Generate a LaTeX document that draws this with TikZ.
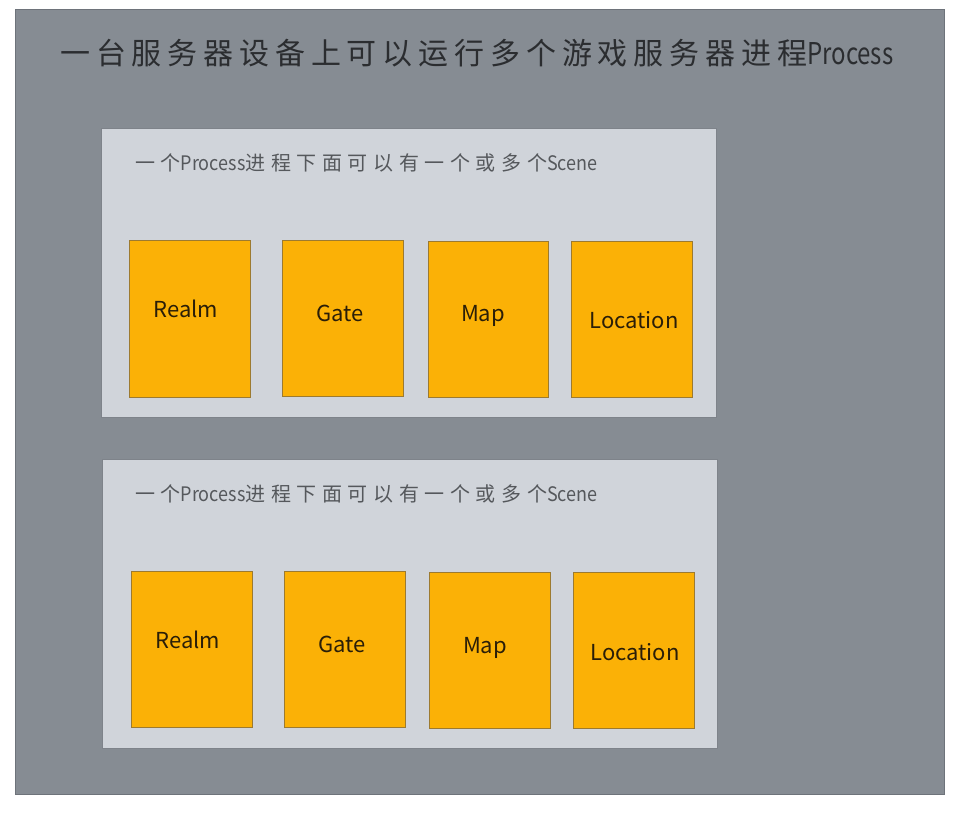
\documentclass[tikz,border=0pt]{standalone}
\usepackage{fontspec}
\setmainfont{Noto Sans CJK SC}
\newfontfamily\cjkfont{Noto Sans CJK SC}
\definecolor{outerfill}{HTML}{868C93}
\definecolor{outerline}{HTML}{6E737A}
\definecolor{innerfill}{HTML}{D0D4DA}
\definecolor{innerline}{HTML}{7E838A}
\definecolor{orangefill}{HTML}{FBB106}
\definecolor{orangeline}{HTML}{9C7A30}
\definecolor{titlecol}{HTML}{2B2D30}
\definecolor{subcol}{HTML}{55585C}
\definecolor{labelcol}{HTML}{2A1E08}
\tikzset{
  outerbox/.style={draw=outerline, fill=outerfill, line width=1pt},
  innerbox/.style={draw=innerline, fill=innerfill, line width=1pt},
  scenebox/.style={draw=orangeline, fill=orangefill, line width=0.8pt},
  titletext/.style={text=titlecol, font=\fontsize{30}{34}\selectfont, inner sep=0pt},
  subtext/.style={text=subcol, font=\fontsize{20}{24}\selectfont, inner sep=0pt, anchor=west},
  labeltext/.style={text=labelcol, font=\fontsize{22}{26}\selectfont, inner sep=0pt},
}
\newcommand{\subline}{{\addfontfeature{LetterSpace=28}一个}\scalebox{0.9}[1]{Process}{\addfontfeature{LetterSpace=28}进程下面可以有一个或多个}\scalebox{0.9}[1]{Scene}}
\begin{document}
\begin{tikzpicture}[x=1pt,y=-1pt]
\useasboundingbox (0,0) rectangle (955,812);
\fill[white] (0,0) rectangle (955,812);
\draw[outerbox] (15,9) rectangle (944,794);
\node[titletext, anchor=west] (title) at (60,53) {{\addfontfeature{LetterSpace=19.5}一台服务器设备上可以运行多个游戏服务器进程}\scalebox{0.8}[1]{Process}};
% process 1
\draw[innerbox] (101,128) rectangle (716,417);
\node[subtext] (sub1) at (135,163) {\subline};
\node[scenebox, minimum width=121pt, minimum height=157pt, anchor=north west] (r1) at (129,240) {};
\node[scenebox, minimum width=121pt, minimum height=156pt, anchor=north west] (g1) at (282,240) {};
\node[scenebox, minimum width=120pt, minimum height=156pt, anchor=north west] (m1) at (428,241) {};
\node[scenebox, minimum width=121pt, minimum height=156pt, anchor=north west] (l1) at (571,241) {};
\node[labeltext] (rt1) at (186,309) {Realm};
\node[labeltext] (gt1) at (340,313) {Gate};
\node[labeltext] (mt1) at (483,316) {Map};
\node[labeltext] (lt1) at (634,320) {Location};
% process 2
\draw[innerbox] (102,459) rectangle (717,748);
\node[subtext] (sub2) at (135,494) {\subline};
\node[scenebox, minimum width=121pt, minimum height=156pt, anchor=north west] (r2) at (131,571) {};
\node[scenebox, minimum width=121pt, minimum height=156pt, anchor=north west] (g2) at (284,571) {};
\node[scenebox, minimum width=121pt, minimum height=156pt, anchor=north west] (m2) at (429,572) {};
\node[scenebox, minimum width=121pt, minimum height=156pt, anchor=north west] (l2) at (573,572) {};
\node[labeltext] (rt2) at (188,640) {Realm};
\node[labeltext] (gt2) at (342,644) {Gate};
\node[labeltext] (mt2) at (485,648) {Map};
\node[labeltext] (lt2) at (635,652) {Location};
\end{tikzpicture}
\end{document}
